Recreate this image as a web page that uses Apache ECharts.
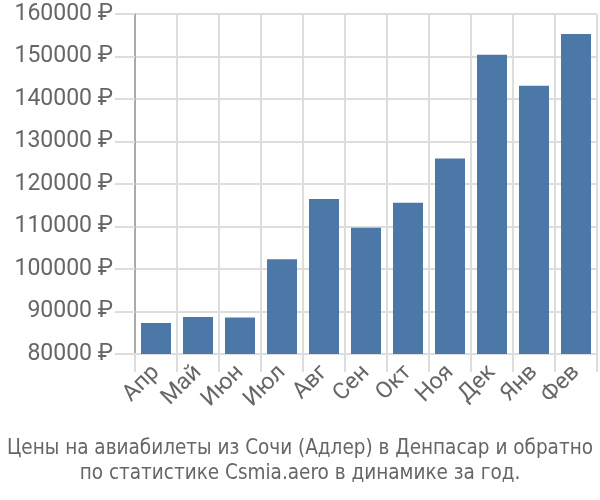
<!DOCTYPE html>
<html>
<head>
<meta charset="utf-8">
<script src="https://cdn.jsdelivr.net/npm/echarts@6/dist/echarts.min.js"></script>
<style>
  html, body { margin: 0; padding: 0; background: #fff; }
  #chart { width: 600px; height: 500px; }
</style>
</head>
<body>
<div id="chart"></div>
<script>
var months = ['Апр', 'Май', 'Июн', 'Июл', 'Авг', 'Сен', 'Окт', 'Ноя', 'Дек', 'Янв', 'Фев'];
var prices = [87300, 88700, 88600, 102300, 116500, 109700, 115600, 126000, 150400, 143100, 155300];
var titleLines = ['Цены на авиабилеты из Сочи (Адлер) в Денпасар и обратно', 'по статистике Csmia.aero в динамике за год.'];

var chart = echarts.init(document.getElementById('chart'));

var option = {
    animation: false,
    title: {
        text: titleLines.join('\n'),
        left: 'center',
        bottom: 9,
        textStyle: {
            fontFamily: 'DejaVu Sans Condensed',
            fontWeight: 'normal',
            fontSize: 20.5,
            lineHeight: 25,
            color: '#666'
        }
    },
    grid: {
        left: 135,
        right: 3,
        top: 14,
        bottom: 146
    },
    xAxis: {
        type: 'category',
        data: months,
        axisLine: { show: true, lineStyle: { color: '#ddd', width: 2 } },
        axisTick: { show: true, length: 18, lineStyle: { color: '#ddd', width: 2 } },
        splitLine: { show: true, lineStyle: { color: '#ddd', width: 2 } },
        axisLabel: {
            interval: 0,
            rotate: 45,
            fontFamily: 'Roboto',
            fontSize: 23,
            color: '#666',
            margin: 15
        }
    },
    yAxis: {
        type: 'value',
        min: 80000,
        max: 160000,
        interval: 10000,
        axisLine: { show: true, lineStyle: { color: '#aaa', width: 2 } },
        axisTick: { show: true, length: 20, lineStyle: { color: '#ddd', width: 2 } },
        splitLine: { show: true, lineStyle: { color: '#ddd', width: 2 } },
        axisLabel: {
            fontFamily: 'Roboto',
            fontSize: 23,
            color: '#666',
            margin: 22,
            formatter: function (v) { return v + ' ₽'; }
        }
    },
    series: [{
        type: 'bar',
        data: prices,
        barWidth: 30,
        itemStyle: { color: '#4c78a8' }
    }]
};

chart.setOption(option);
</script>
</body>
</html>
